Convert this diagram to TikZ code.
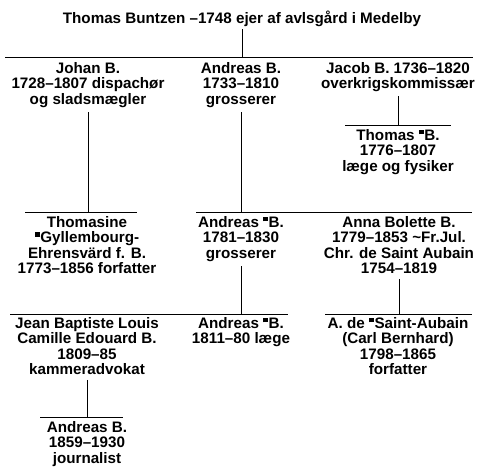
\documentclass[tikz,border=0pt]{standalone}
\usepackage{fontspec}
\setmainfont{Liberation Sans}
\usetikzlibrary{positioning}
\newcommand{\msq}{\raisebox{0.38em}{\rule{0.32em}{0.32em}}\kern0.04em}
\tikzset{person/.style={anchor=north,align=center,inner sep=0pt,
    font=\fontsize{15.2}{15.4}\selectfont\bfseries},
  bar/.style={line width=0.9pt}}

\begin{document}
\begin{tikzpicture}[x=1pt,y=-1pt]
\useasboundingbox (0,0) rectangle (479,471);
% stamfar
\node[person] (buntzen) at (242,11) {Thomas Buntzen --1748 ejer af avlsgård i Medelby};
\coordinate (g1l) at (5,57);
\coordinate (g1r) at (473,57);
\draw[bar] (g1l) -- (g1r);
\draw[bar] ([yshift=-2pt]buntzen.south) -- (buntzen.south |- g1l);
% born
\node[person] (johan) at (88,62) {Johan B.\\1728--1807 dispachør\\og sladsmægler};
\node[person] (andreasA) at (241,62) {Andreas B.\\1733--1810\\grosserer};
\node[person] (jacob) at (398,62) {Jacob B. 1736--1820\\overkrigskommissær};
% Jacobs søn
\coordinate (g2l) at (345,125);
\coordinate (g2r) at (451,125);
\draw[bar] (g2l) -- (g2r);
\draw[bar] ([yshift=-4pt]jacob.south) -- (jacob.south |- g2l);
\node[person] (thomasB) at (398,129) {Thomas \msq B.\\1776--1807\\læge og fysiker};
% børnebørn
\coordinate (g3a) at (25,212);
\coordinate (g3b) at (137,212);
\coordinate (g3c) at (196,212);
\coordinate (g3d) at (472,212);
\draw[bar] (g3a) -- (g3b);
\draw[bar] (g3c) -- (g3d);
\draw[bar] ([yshift=-5pt]johan.south) -- (johan.south |- g3a);
\draw[bar] ([yshift=-5pt]andreasA.south) -- (andreasA.south |- g3c);
\node[person] (thomasine) at (87,216) {Thomasine\\\msq Gyllembourg-\\Ehrensvärd f. B.\\1773--1856 forfatter};
\node[person] (andreasB) at (241,216) {Andreas \msq B.\\1781--1830\\grosserer};
\node[person] (anna) at (399,216) {Anna Bolette B.\\1779--1853 \textasciitilde Fr.Jul.\\Chr. de Saint Aubain\\1754--1819};
% næste led
\coordinate (g4a) at (10,314);
\coordinate (g4b) at (288,314);
\coordinate (g4c) at (325,314);
\coordinate (g4d) at (472,314);
\draw[bar] (g4a) -- (g4b);
\draw[bar] (g4c) -- (g4d);
\draw[bar] ([yshift=-5pt]andreasB.south) -- (andreasB.south |- g4a);
\draw[bar] ([yshift=-5pt]anna.south) -- (anna.south |- g4c);
\node[person] (jean) at (87,317) {Jean Baptiste Louis\\Camille Edouard B.\\1809--85\\kammeradvokat};
\node[person] (andreasC) at (241,317) {Andreas \msq B.\\1811--80 læge};
\node[person] (aubain) at (398,317) {A. de \msq Saint-Aubain\\(Carl Bernhard)\\1798--1865\\forfatter};
% sidste led
\coordinate (g5l) at (40,417);
\coordinate (g5r) at (123,417);
\draw[bar] (g5l) -- (g5r);
\draw[bar] ([yshift=-5pt]jean.south) -- (jean.south |- g5l);
\node[person] (andreasD) at (87,421) {Andreas B.\\1859--1930\\journalist};
\end{tikzpicture}
\end{document}
